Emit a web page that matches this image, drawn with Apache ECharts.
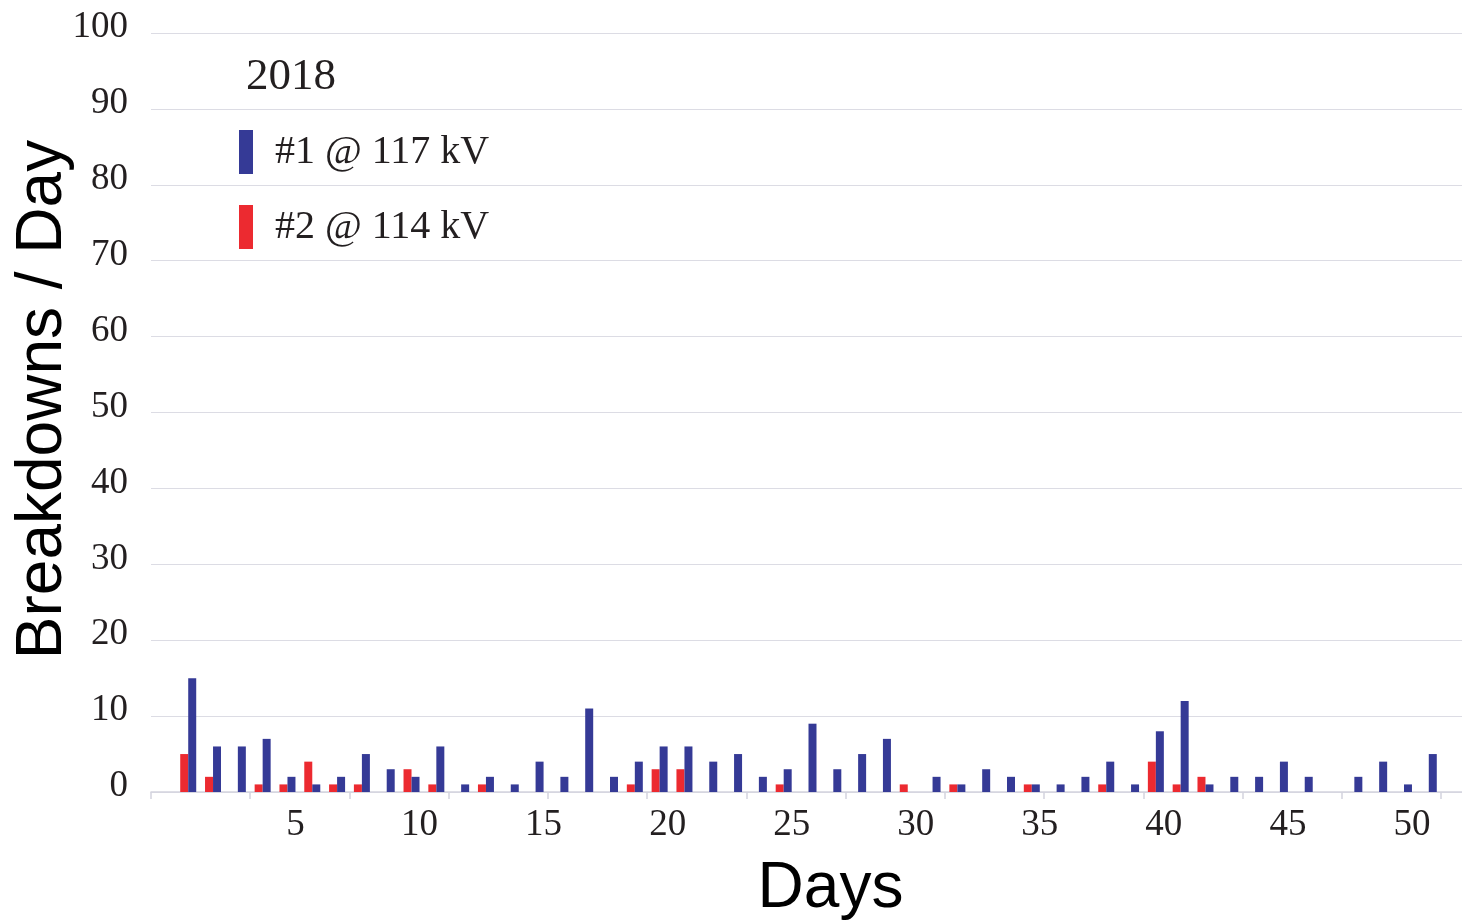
<!DOCTYPE html>
<html>
<head>
<meta charset="utf-8">
<script src="https://cdn.jsdelivr.net/npm/echarts@6/dist/echarts.min.js"></script>
<style>
html,body{margin:0;padding:0;background:#fff;}
#chart{width:1462px;height:922px;}
</style>
</head>
<body>
<div id="chart"></div>
<script>
// Days 0..52 (0 and 52 are empty padding categories on the axis)
const days = [0,1,2,3,4,5,6,7,8,9,10,11,12,13,14,15,16,17,18,19,20,21,22,23,24,25,26,27,28,29,30,31,32,33,34,35,36,37,38,39,40,41,42,43,44,45,46,47,48,49,50,51,52];
const series1Name = '#1 @ 117 kV';
const series2Name = '#2 @ 114 kV';
const series1 = [0,15,6,6,7,2,1,2,5,3,2,6,1,2,1,4,2,11,2,4,6,6,4,5,2,3,9,3,5,7,0,2,1,3,2,1,1,2,4,1,8,12,1,2,2,4,2,0,2,4,1,5,0];
const series2 = [0,5,2,0,1,1,4,1,1,0,3,1,0,1,0,0,0,0,0,1,3,3,0,0,0,1,0,0,0,0,1,0,1,0,0,1,0,0,1,0,4,1,2,0,0,0,0,0,0,0,0,0,0];
const yTicks = {min:0, max:100, interval:10};
const titleText = '2018';

const chart = echarts.init(document.getElementById('chart'));
const serif = '"Liberation Serif", "Times New Roman", serif';
const sans = '"Liberation Sans", Arial, sans-serif';
const txt = '#231f20';

chart.setOption({
  animation: false,
  title: {
    text: titleText,
    left: 246, top: 55, padding: 0,
    textStyle: {fontFamily: serif, fontSize: 45, fontWeight: 'normal', color: txt}
  },
  legend: {
    data: [series1Name, series2Name],
    orient: 'vertical',
    left: 239, top: 130, padding: 0,
    itemWidth: 14, itemHeight: 44, itemGap: 31,
    icon: 'rect',
    selectedMode: false,
    itemStyle: {borderWidth: 0},
    textStyle: {fontFamily: serif, fontSize: 40, color: txt, padding: [0,0,0,17]}
  },
  grid: {left: 151, right: -4, top: 33, bottom: 130, containLabel: false, outerBoundsMode: 'none'},
  xAxis: {
    type: 'category',
    data: days,
    boundaryGap: true,
    name: 'Days',
    nameLocation: 'middle',
    nameGap: 65,
    nameTextStyle: {fontFamily: sans, fontSize: 64, color: '#000', padding: [0,0,0,44]},
    axisLine: {show: true, lineStyle: {color: '#d4d4de', width: 1.5}},
    axisTick: {show: true, interval: 3, length: 7, inside: false, lineStyle: {color: '#d4d4de', width: 1.5}},
    axisLabel: {
      interval: function(idx, val){ return Number(val) % 5 === 0 && Number(val) !== 0; },
      fontFamily: serif, fontSize: 37, color: txt, margin: 15,
      padding: [0,0,0,16]
    },
    splitLine: {show: false}
  },
  yAxis: {
    type: 'value',
    min: yTicks.min, max: yTicks.max, interval: yTicks.interval,
    name: 'Breakdowns / Day',
    nameLocation: 'middle',
    nameRotate: 90,
    nameGap: 76,
    nameMoveOverlap: false,
    nameTextStyle: {fontFamily: sans, fontSize: 64, color: '#000', padding: [0,0,0,26]},
    axisLine: {show: false},
    axisTick: {show: false},
    axisLabel: {fontFamily: serif, fontSize: 37, color: txt, margin: 23, verticalAlign: 'bottom', lineHeight: 11},
    splitLine: {lineStyle: {color: '#dcdce4', width: 1.2}}
  },
  series: [
    {
      name: series2Name, type: 'bar', data: series2,
      barWidth: 8, barGap: '0%',
      itemStyle: {color: '#ec2a30', borderWidth: 0}
    },
    {
      name: series1Name, type: 'bar', data: series1,
      barWidth: 8, barGap: '0%',
      itemStyle: {color: '#353a96', borderWidth: 0}
    }
  ]
});
</script>
</body>
</html>
